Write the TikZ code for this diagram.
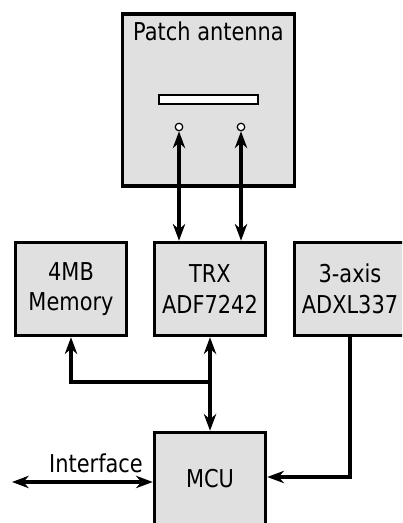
\documentclass[tikz,border=0pt]{standalone}
\usepackage{fontspec}
\setmainfont{DejaVu Sans}[FakeStretch=0.85]
\usetikzlibrary{arrows.meta}
\definecolor{boxgray}{RGB}{224,224,224}
\begin{document}
\begin{tikzpicture}[
    blocco/.style={draw,line width=2pt,fill=boxgray,minimum width=2.22cm,minimum height=1.86cm,align=center,inner sep=0pt},
    freccia/.style={line width=2pt,-{Stealth[length=9.5pt,width=7pt,inset=3pt]}},
    doppia/.style={line width=2pt,{Stealth[length=9.5pt,width=7pt,inset=3pt]}-{Stealth[length=9.5pt,width=7pt,inset=3pt]}},
    font=\fontsize{14}{17.5}\selectfont]
    \clip (0,0) rectangle (8.04,10.46);
    % antenna
    \node [draw,line width=2pt,fill=boxgray,minimum width=3.44cm,minimum height=3.44cm] (ant) at (4.17,8.46) {};
    \node (antlbl) at (4.17,9.84) {Patch antenna};
    \node [draw,line width=0.9pt,fill=white,minimum width=1.98cm,minimum height=0.18cm,inner sep=0pt] (slot) at (4.17,8.47) {};
    \node [draw,line width=0.7pt,fill=white,circle,minimum size=0.15cm,inner sep=0pt] (pa) at (3.58,7.92) {};
    \node [draw,line width=0.7pt,fill=white,circle,minimum size=0.15cm,inner sep=0pt] (pb) at (4.82,7.92) {};
    % blocchi
    \node [blocco] (mem) at (1.42,4.68) {4MB\\Memory};
    \node [blocco] (trx) at (4.2,4.68) {TRX\\ADF7242};
    \node [blocco] (acc) at (7.0,4.68) {3-axis\\ADXL337};
    \node [blocco] (mcu) at (4.2,0.88) {MCU};
    % collegamenti
    \draw [doppia] (pa.south) -- (pa.south |- trx.north);
    \draw [doppia] (pb.south) -- (pb.south |- trx.north);
    \coordinate (nodo) at (4.2,2.82);
    \draw [doppia,line width=2.4pt] (trx.south) -- (mcu.north);
    \draw [freccia] (nodo) -| (mem.south);
    \draw [freccia] (acc.south) |- ([yshift=0.4mm]mcu.east);
    \coordinate (ifc) at (0.24,0.82);
    \draw [doppia] (ifc) -- (mcu.west |- ifc);
    \node (ifclbl) at (1.92,1.2) {Interface};
\end{tikzpicture}
\end{document}
